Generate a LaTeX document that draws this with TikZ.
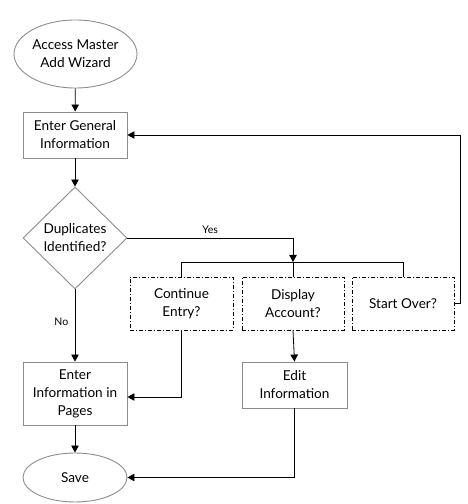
\documentclass[tikz,border=0pt]{standalone}
\usepackage{fontspec}
\setmainfont{Lato}
\usetikzlibrary{shapes.geometric,arrows.meta}
\begin{document}
\begin{tikzpicture}[x=1pt,y=1pt,
  font=\fontsize{13.6}{18}\selectfont,
  proc/.style={draw=black!45,line width=0.9pt,rectangle,align=center,inner sep=0pt},
  term/.style={draw=black!45,line width=0.9pt,ellipse,align=center,inner sep=0pt},
  dec/.style={draw=black!45,line width=0.9pt,diamond,align=center,inner sep=0pt},
  choice/.style={draw=black,line width=0.8pt,rectangle,align=center,inner sep=0pt,
     dash pattern=on 4pt off 2pt on 1pt off 2pt},
  conn/.style={line width=0.8pt,-{Triangle[length=7pt,width=7.5pt]}},
  plain/.style={line width=0.8pt},
  lbl/.style={font=\fontsize{10.5}{12}\selectfont}]
\useasboundingbox (0,0) rectangle (468,504);
\node[term,minimum width=123pt,minimum height=68pt] (start) at (75.5,450) {Access Master\\Add Wizard};
\node[proc,minimum width=104pt,minimum height=46pt] (eg) at (75,369) {Enter General\\Information};
\node[dec,minimum width=104pt,minimum height=102pt] (dup) at (75,266) {Duplicates\\Identified?};
\node[choice,minimum width=103pt,minimum height=53pt] (ce) at (181.5,200.5) {Continue\\Entry?};
\node[choice,minimum width=102pt,minimum height=53pt] (da) at (293,200.5) {Display\\Account?};
\node[choice,minimum width=102pt,minimum height=53pt] (so) at (403,200.5) {Start Over?};
\node[proc,minimum width=104pt,minimum height=63pt] (ei) at (75,110.5) {Enter\\Information in\\Pages};
\node[proc,minimum width=105pt,minimum height=46pt] (edit) at (294.5,119) {Edit\\Information};
\node[term,minimum width=104pt,minimum height=49pt] (save) at (75,26.5) {Save};
\coordinate (jn) at (293,242);
\coordinate (rt) at (460,200.5);
\draw[conn] (start) -- (eg);
\draw[conn] (eg) -- (dup);
\draw[conn] (dup.east) -| node[lbl,pos=0.25,above=0.5pt] {Yes} (jn);
\draw[plain] (ce.north) |- (so.north |- jn) -- (so.north);
\draw[plain] (jn) -- (da.north);
\draw[conn] (so.east) -- (rt) |- (eg.east);
\draw[conn] (dup.south) -- node[lbl,pos=0.45,left=3pt] {No} (ei.north);
\draw[conn] (ce.south) |- ([yshift=-3.5pt]ei.east);
\draw[conn] (da.south) -- (edit.north);
\draw[conn] (ei.south) -- (save.north);
\draw[conn] (edit.south) |- (save.east);
\end{tikzpicture}
\end{document}
